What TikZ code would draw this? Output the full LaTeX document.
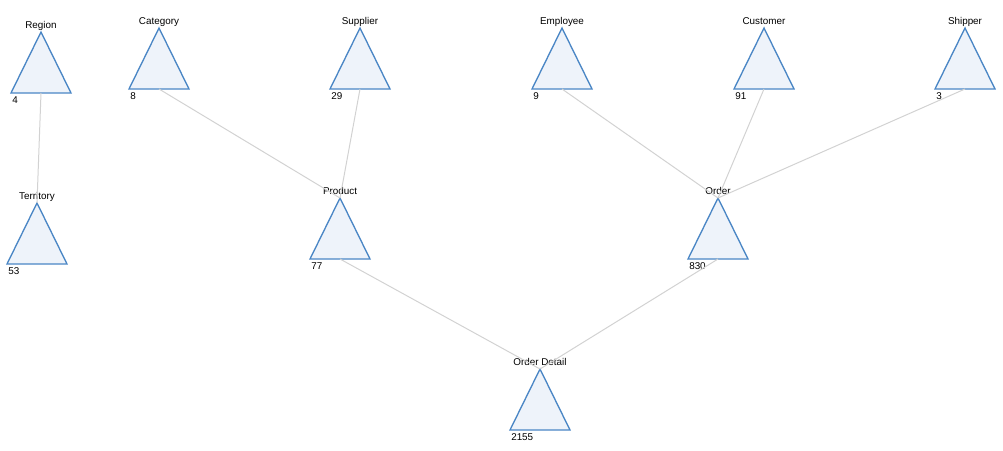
\documentclass[tikz,border=0pt]{standalone}
\usepackage{fontspec}
\setmainfont{Liberation Sans}
\usepackage{tikz}

\definecolor{bordoblu}{HTML}{4A86C5}
\definecolor{riempiblu}{HTML}{EEF3FA}
\definecolor{lineagrigia}{HTML}{D2D2D2}

\tikzset{
  entita/.style={draw=bordoblu, fill=riempiblu, line width=1pt, line join=miter},
  legame/.style={draw=lineagrigia, line width=0.75pt},
  nome/.style={font=\fontsize{7.4}{8}\selectfont, anchor=base, inner sep=0pt},
  conta/.style={font=\fontsize{7.4}{8}\selectfont, anchor=base west, inner sep=0pt}
}

% triangolo: id, x, y (apice), nome, numero
\newcommand{\entita}[5]{%
  \coordinate (#1-top) at (#2,#3);
  \coordinate (#1-base) at (#2,#3+61);
  \draw[entita] (#1-top) -- (#2+30,#3+61) -- (#2-30,#3+61) -- cycle;
  \node[nome] (#1-nome) at (#2,#3-4) {#4};
  \node[conta] (#1-conta) at (#2-29,#3+71) {#5};
}

\begin{document}
\begin{tikzpicture}[x=0.75pt, y=-0.75pt]
    \useasboundingbox (0,0) rectangle (1003,450);

    % 1. Riga superiore
    \entita{region}{41}{32}{Region}{4}
    \entita{category}{159}{28}{Category}{8}
    \entita{supplier}{360}{28}{Supplier}{29}
    \entita{employee}{562}{28}{Employee}{9}
    \entita{customer}{764}{28}{Customer}{91}
    \entita{shipper}{965}{28}{Shipper}{3}

    % 2. Riga centrale
    \entita{territory}{37}{203}{Territory}{53}
    \entita{product}{340}{198}{Product}{77}
    \entita{order}{718}{198}{Order}{830}

    % 3. Riga inferiore
    \entita{detail}{540}{369}{Order Detail}{2155}

    % 4. Legami (dalla base all'apice)
    \draw[legame] (region-base) -- (territory-top);
    \draw[legame] (category-base) -- (product-top);
    \draw[legame] (supplier-base) -- (product-top);
    \draw[legame] (employee-base) -- (order-top);
    \draw[legame] (customer-base) -- (order-top);
    \draw[legame] (shipper-base) -- (order-top);
    \draw[legame] (product-base) -- (detail-top);
    \draw[legame] (order-base) -- (detail-top);

\end{tikzpicture}
\end{document}
